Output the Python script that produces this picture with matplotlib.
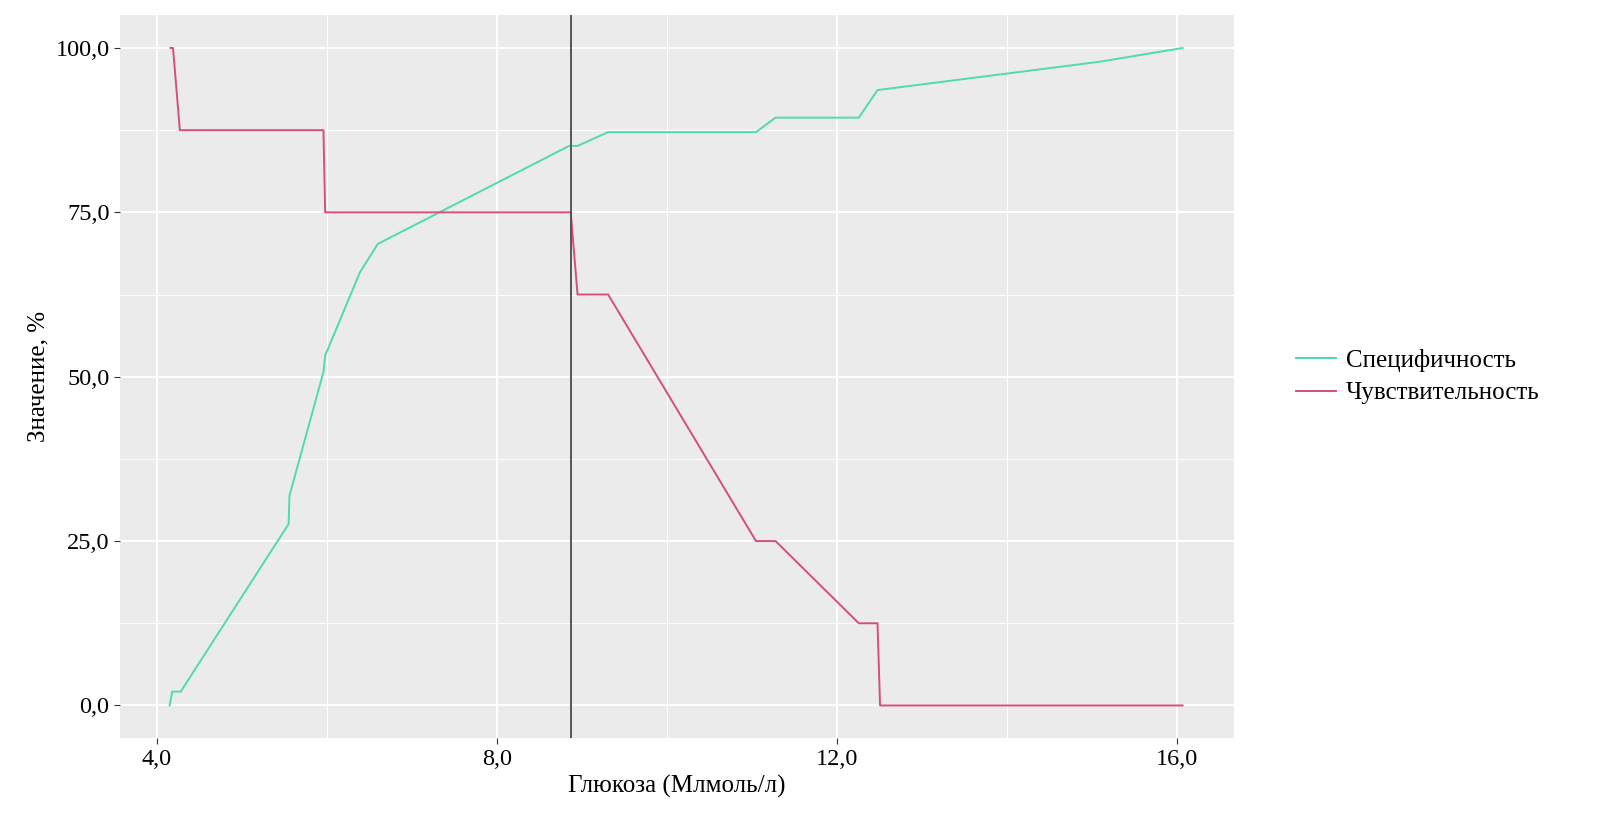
import matplotlib.pyplot as plt
from matplotlib.ticker import FixedLocator

plt.rcParams['font.family'] = ['Liberation Serif', 'DejaVu Serif']

# Specificity curve
spec_x = [4.15, 4.18, 4.28, 5.55, 5.56, 5.96, 5.98, 6.39, 6.60, 8.85, 8.95, 9.31, 11.05, 11.28, 12.26, 12.48, 15.09, 16.07]
spec_y = [0.0, 2.1, 2.1, 27.6, 31.9, 50.7, 53.2, 65.9, 70.2, 85.1, 85.1, 87.2, 87.2, 89.4, 89.4, 93.6, 97.9, 100.0]

# Sensitivity curve
sens_x = [4.16, 4.19, 4.27, 5.96, 5.98, 8.87, 8.95, 9.31, 11.05, 11.28, 12.26, 12.48, 12.51, 16.07]
sens_y = [100.0, 100.0, 87.5, 87.5, 75.0, 75.0, 62.5, 62.5, 25.0, 25.0, 12.5, 12.5, 0.0, 0.0]

cutoff = 8.87
x_ticks = [4.0, 8.0, 12.0, 16.0]
y_ticks = [0.0, 25.0, 50.0, 75.0, 100.0]

fig = plt.figure(figsize=(15.99, 8.39), dpi=100)
ax = fig.add_axes([0.075, 0.120, 0.697, 0.862])
ax.set_facecolor('#EBEBEB')
for s in ax.spines.values():
    s.set_visible(False)

ax.set_xlim(3.565, 16.68)
ax.set_ylim(-5.0, 105.0)
ax.set_xticks(x_ticks)
ax.set_yticks(y_ticks)
ax.xaxis.set_minor_locator(FixedLocator([6, 10, 14]))
ax.yaxis.set_minor_locator(FixedLocator([12.5, 37.5, 62.5, 87.5]))
ax.set_xticklabels([f'{v:.1f}'.replace('.', ',') for v in x_ticks])
ax.set_yticklabels([f'{v:.1f}'.replace('.', ',') for v in y_ticks])
ax.grid(which='major', color='white', linewidth=1.4)
ax.grid(which='minor', color='white', linewidth=0.7)
ax.set_axisbelow(True)
ax.tick_params(which='major', length=4, color='#333333', labelsize=17.5, labelcolor='black')
ax.tick_params(which='minor', length=0)

ax.plot(spec_x, spec_y, color='#50DBAA', linewidth=1.4, label='Специфичность')
ax.plot(sens_x, sens_y, color='#D4507A', linewidth=1.4, label='Чувствительность')
ax.axvline(cutoff, color='#555555', linewidth=1.4)

ax.set_xlabel('Глюкоза (Млмоль/л)', fontsize=18)
ax.set_ylabel('Значение, %', fontsize=18)

leg = ax.legend(loc='center left', bbox_to_anchor=(1.035, 0.5), frameon=False,
                fontsize=18, handlelength=1.6, handletextpad=0.4, labelspacing=0.4)

fig.savefig('out.png', dpi=100)
